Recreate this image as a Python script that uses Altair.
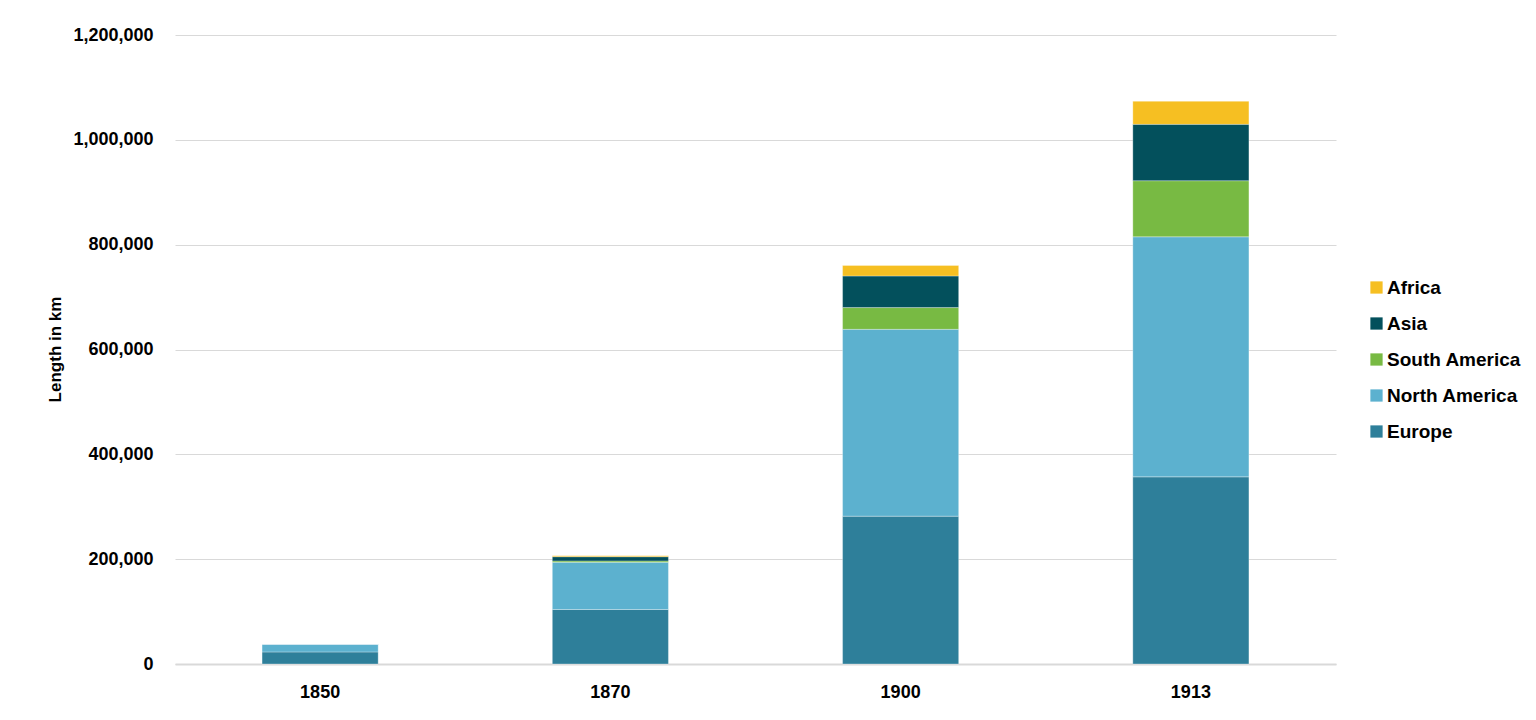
import altair as alt
import pandas as pd

years = ["1850", "1870", "1900", "1913"]
regions = ["Europe", "North America", "South America", "Asia", "Africa"]
europe = [23000, 104000, 282000, 357000]
north_america = [15000, 90000, 356500, 458000]
south_america = [0, 2700, 41500, 107000]
asia = [0, 8000, 60300, 107500]
africa = [0, 1800, 19900, 44000]

legend_order = ["Africa", "Asia", "South America", "North America", "Europe"]
colors = {"Europe": "#2E7F9A", "North America": "#5CB1CF", "South America": "#78BA43",
          "Asia": "#03505C", "Africa": "#F6BF22"}

series = {"Europe": europe, "North America": north_america, "South America": south_america,
          "Asia": asia, "Africa": africa}
rows = []
for ri, r in enumerate(regions):
    for yi, y in enumerate(years):
        rows.append({"Year": y, "Region": r, "Length": series[r][yi], "idx": ri})
df = pd.DataFrame(rows)

FONT = "Liberation Sans"

chart = alt.Chart(df).mark_bar(stroke="white", strokeWidth=0.5, strokeOpacity=0.6).encode(
    x=alt.X("Year:N", sort=years,
            scale=alt.Scale(paddingInner=0.6, paddingOuter=0.3),
            axis=alt.Axis(title=None, labelAngle=0, ticks=False, domain=True,
                          domainColor="#d9d9d9", domainWidth=2,
                          labelFont=FONT, labelFontSize=18, labelFontWeight="bold",
                          labelColor="#000000", labelPadding=19)),
    y=alt.Y("Length:Q", stack="zero",
            scale=alt.Scale(domain=[0, 1200000], nice=False),
            axis=alt.Axis(title="Length in km", values=[0, 200000, 400000, 600000, 800000, 1000000, 1200000],
                          format=",.0f", ticks=False, domain=False,
                          grid=True, gridColor="#d9d9d9", gridWidth=1,
                          labelFont=FONT, labelFontSize=18, labelFontWeight="bold",
                          labelColor="#000000", labelPadding=22,
                          titleFont=FONT, titleFontSize=17, titleFontWeight="bold",
                          titleColor="#000000", titleX=-120, titleY=314, titleAngle=-90,
                          titleAlign="center", titleBaseline="middle")),
    color=alt.Color("Region:N", sort=legend_order,
                    scale=alt.Scale(domain=legend_order, range=[colors[k] for k in legend_order]),
                    legend=alt.Legend(title=None, orient="none", legendX=1192, legendY=243,
                                      symbolType="square", symbolSize=150, symbolStrokeWidth=0,
                                      labelFont=FONT, labelFontSize=19, labelFontWeight="bold",
                                      labelColor="#000000", rowPadding=16, labelOffset=1,
                                      labelLimit=300)),
    order=alt.Order("idx:Q", sort="ascending"),
    tooltip=["Year", "Region", "Length"],
).properties(
    width=1161, height=629,
    background="white",
    autosize=alt.AutoSizeParams(type="none"),
    padding={"left": 167, "top": 27, "right": 190, "bottom": 40},
).configure_view(strokeWidth=0, stroke="transparent")

chart.save("out.html", embed_options={"renderer": "svg", "actions": False})
